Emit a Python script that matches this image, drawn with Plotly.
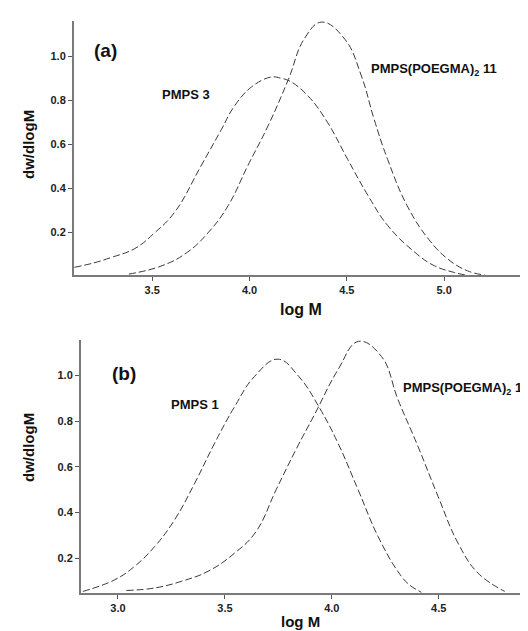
import plotly.graph_objects as go

W, H = 528, 631

# Panel (a)
pmps3_x = [3.10, 3.20, 3.29, 3.41, 3.51, 3.615, 3.75, 3.855, 3.92, 4.01, 4.11, 4.16, 4.21, 4.30, 4.40, 4.505, 4.61, 4.71, 4.85, 4.95, 5.05, 5.12]
pmps3_y = [0.04, 0.06, 0.085, 0.125, 0.195, 0.29, 0.50, 0.666, 0.77, 0.86, 0.905, 0.90, 0.885, 0.82, 0.70, 0.53, 0.365, 0.23, 0.108, 0.047, 0.017, 0.003]
poeg11_x = [3.38, 3.55, 3.68, 3.79, 3.89, 3.99, 4.095, 4.20, 4.28, 4.37, 4.49, 4.575, 4.64, 4.71, 4.81, 4.92, 5.02, 5.12, 5.21]
poeg11_y = [0.009, 0.047, 0.108, 0.20, 0.32, 0.50, 0.683, 0.895, 1.077, 1.155, 1.077, 0.91, 0.714, 0.53, 0.32, 0.168, 0.077, 0.024, 0.004]

# Panel (b)
pmps1_x = [2.836, 2.985, 3.078, 3.172, 3.265, 3.359, 3.452, 3.546, 3.639, 3.748, 3.845, 3.943, 4.029, 4.123, 4.216, 4.31, 4.36, 4.419]
pmps1_y = [0.054, 0.105, 0.164, 0.251, 0.368, 0.528, 0.703, 0.864, 0.996, 1.071, 0.996, 0.857, 0.703, 0.499, 0.295, 0.14, 0.085, 0.05]
poeg1_x = [3.039, 3.172, 3.296, 3.421, 3.546, 3.645, 3.74, 3.835, 3.92, 4.029, 4.125, 4.232, 4.31, 4.403, 4.497, 4.59, 4.684, 4.809]
poeg1_y = [0.058, 0.069, 0.098, 0.142, 0.222, 0.315, 0.50, 0.68, 0.83, 1.025, 1.149, 1.083, 0.893, 0.689, 0.47, 0.266, 0.134, 0.054]

xticks_a = [3.5, 4.0, 4.5, 5.0]
xticks_b = [3.0, 3.5, 4.0, 4.5]
yticks = [0.2, 0.4, 0.6, 0.8, 1.0]


def px(x):
    return x / W


def py(y):
    return 1 - y / H


line = dict(color="#3a3a3a", width=1, dash="7px,3px", shape="spline", smoothing=1.2)

fig = go.Figure()
fig.add_trace(go.Scatter(x=pmps3_x, y=pmps3_y, mode="lines", line=line, xaxis="x", yaxis="y", showlegend=False))
fig.add_trace(go.Scatter(x=poeg11_x, y=poeg11_y, mode="lines", line=line, xaxis="x", yaxis="y", showlegend=False))
fig.add_trace(go.Scatter(x=pmps1_x, y=pmps1_y, mode="lines", line=line, xaxis="x2", yaxis="y2", showlegend=False))
fig.add_trace(go.Scatter(x=poeg1_x, y=poeg1_y, mode="lines", line=line, xaxis="x2", yaxis="y2", showlegend=False))

tickfont = dict(family="Liberation Sans", size=11, color="#222", weight="bold")
axcommon = dict(showline=True, linecolor="#7a7a7a", linewidth=2, ticks="outside", ticklen=4,
                tickcolor="#555", tickwidth=1, showgrid=False, zeroline=False, tickfont=tickfont,
                tickformat=".1f")

fig.update_layout(
    width=W, height=H,
    margin=dict(l=0, r=0, t=0, b=0),
    paper_bgcolor="white", plot_bgcolor="white",
    xaxis=dict(domain=[px(66), px(512)], range=[3.098, 5.39], tickvals=xticks_a, anchor="y", **axcommon),
    yaxis=dict(domain=[py(267), py(13)], range=[0.005, 1.16], tickvals=yticks, anchor="x", **axcommon),
    xaxis2=dict(domain=[px(73), 1.0], range=[2.827, 4.955], tickvals=xticks_b, anchor="y2", **axcommon),
    yaxis2=dict(domain=[py(585), py(332)], range=[0.047, 1.155], tickvals=yticks, anchor="x2", **axcommon),
)

bold = dict(family="Liberation Sans", color="#111", weight="bold")
annots = [
    ("(a)", 97, 42, 19, "center"),
    ("PMPS 3", 178, 86, 13, "center"),
    ("PMPS(POEGMA)<sub>2</sub> 11", 361, 61, 13, "left"),
    ("dw/dlogM", 20, 137, 15, "center"),
    ("log M", 293, 302, 16, "center"),
    ("(b)", 116, 365, 19, "center"),
    ("PMPS 1", 187, 396, 13, "center"),
    ("PMPS(POEGMA)<sub>2</sub> 1", 393, 380, 13, "left"),
    ("dw/dlogM", 20, 440, 15, "center"),
    ("log M", 292, 613, 15, "center"),
]
for text, x, y, size, anchor in annots:
    fig.add_annotation(
        text=text, x=px(x), y=py(y), xref="paper", yref="paper", showarrow=False,
        xanchor=anchor, yanchor="middle", font=dict(size=size, **bold),
        textangle=-90 if text == "dw/dlogM" else 0,
    )

fig.write_html("out.html")
